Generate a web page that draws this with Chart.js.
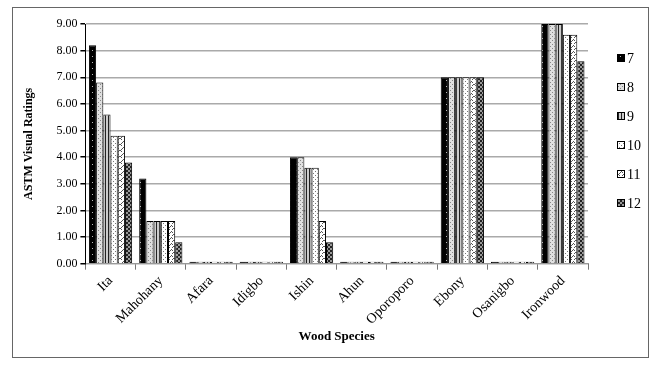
<!DOCTYPE html>
<html>
<head>
<meta charset="utf-8">
<script src="https://cdn.jsdelivr.net/npm/chart.js@4/dist/chart.umd.min.js"></script>
<style>
  body { margin: 0; background: #fff; }
  #wrap { width: 658px; height: 365px; }
</style>
</head>
<body>
<div id="wrap"><canvas id="woodChart"></canvas></div>
<script>
// categories and series
const species = ["Ita", "Mahohany", "Afara", "Idigbo", "Ishin", "Ahun", "Oporoporo", "Ebony", "Osanigbo", "Ironwood"];
const seriesNames = ["7", "8", "9", "10", "11", "12"];
const s7  = [8.2, 3.2, 0, 0, 4.0, 0, 0, 7.0, 0, 9.0];
const s8  = [6.8, 1.6, 0, 0, 4.0, 0, 0, 7.0, 0, 9.0];
const s9  = [5.6, 1.6, 0, 0, 3.6, 0, 0, 7.0, 0, 9.0];
const s10 = [4.8, 1.6, 0, 0, 3.6, 0, 0, 7.0, 0, 8.6];
const s11 = [4.8, 1.6, 0, 0, 1.6, 0, 0, 7.0, 0, 8.6];
const s12 = [3.8, 0.8, 0, 0, 0.8, 0, 0, 7.0, 0, 7.6];
const yTicks = [0, 1, 2, 3, 4, 5, 6, 7, 8, 9];

// little hatch patterns, like the old office fills
function makePattern(kind) {
    const c = document.createElement("canvas");
    c.width = 4; c.height = 4;
    const g = c.getContext("2d");
    if (kind === 0) {          // black with white specks
        c.width = 6; c.height = 6;
        g.fillStyle = "#000"; g.fillRect(0, 0, 6, 6);
        g.fillStyle = "#bbb"; g.fillRect(2, 2, 1, 1);
    } else if (kind === 1) {   // light grey stipple
        g.fillStyle = "#e0e0e0"; g.fillRect(0, 0, 4, 4);
        g.fillStyle = "#888"; g.fillRect(0, 0, 1, 1); g.fillRect(2, 2, 1, 1);
    } else if (kind === 2) {   // vertical stripes
        c.width = 3;
        g.fillStyle = "#ccc"; g.fillRect(0, 0, 3, 4);
        g.fillStyle = "#222"; g.fillRect(0, 0, 1, 4);
    } else if (kind === 3) {   // white with dot grid
        g.fillStyle = "#fff"; g.fillRect(0, 0, 4, 4);
        g.fillStyle = "#777"; g.fillRect(1, 1, 1, 1); g.fillRect(3, 3, 1, 1);
    } else if (kind === 4) {   // diamonds
        c.width = 6; c.height = 6;
        g.fillStyle = "#fff"; g.fillRect(0, 0, 6, 6);
        g.fillStyle = "#555";
        g.fillRect(0, 0, 1, 1); g.fillRect(1, 1, 1, 1); g.fillRect(4, 1, 1, 1); g.fillRect(5, 0, 1, 1);
        g.fillRect(3, 3, 1, 1); g.fillRect(2, 4, 1, 1); g.fillRect(1, 5, 1, 1); g.fillRect(4, 4, 1, 1);
    } else {                   // dark checker
        g.fillStyle = "#999"; g.fillRect(0, 0, 4, 4);
        g.fillStyle = "#222"; g.fillRect(0, 0, 2, 2); g.fillRect(2, 2, 2, 2);
    }
    const ctx = document.getElementById("woodChart").getContext("2d");
    return ctx.createPattern(c, "repeat");
}

const allSeries = [s7, s8, s9, s10, s11, s12];
const datasets = allSeries.map((vals, i) => ({
    label: seriesNames[i],
    data: vals,
    backgroundColor: makePattern(i),
    borderColor: "#000",
    borderWidth: 1,
    minBarLength: 2,
    barPercentage: 1.0,
    categoryPercentage: 0.86
}));

// frame round the whole picture, x title and the legend on the right
const framePlugin = {
    id: "frame",
    afterDraw(chart) {
        const g = chart.ctx;
        const area = chart.chartArea;
        g.save();
        g.strokeStyle = "#666";
        g.lineWidth = 1;
        g.strokeRect(12.5, 7.5, 636, 350);

        g.fillStyle = "#000";
        g.textAlign = "center";
        g.textBaseline = "middle";
        g.font = "bold 13px 'Liberation Serif'";
        g.fillText("Wood Species", (area.left + area.right) / 2, 337);

        g.textAlign = "left";
        g.font = "14px 'Liberation Serif'";
        chart.data.datasets.forEach((ds, i) => {
            const y = 58 + i * 29;
            g.fillStyle = ds.backgroundColor;
            g.fillRect(617, y - 4, 8, 8);
            g.strokeStyle = "#000";
            g.strokeRect(617.5, y - 3.5, 7, 7);
            g.fillStyle = "#000";
            g.fillText(ds.label, 627, y + 1);
        });
        g.restore();
    }
};

new Chart(document.getElementById("woodChart"), {
    type: "bar",
    data: { labels: species, datasets: datasets },
    options: {
        responsive: true,
        maintainAspectRatio: false,
        animation: false,
        layout: { padding: { left: 18, top: 24, right: 70, bottom: 34 } },
        plugins: {
            tooltip: { enabled: false },
            legend: { display: false }
        },
        scales: {
            x: {
                grid: { drawOnChartArea: false, color: "#777", tickLength: 6 },
                border: { color: "#999" },
                ticks: {
                    color: "#000",
                    font: { family: "Liberation Serif", size: 14 },
                    maxRotation: 45,
                    minRotation: 45
                }
            },
            y: {
                min: 0,
                max: 9,
                afterBuildTicks(axis) { axis.ticks = yTicks.map(v => ({ value: v })); },
                grid: { color: "#aaa", lineWidth: 1.5, tickColor: "#000", tickLength: 5 },
                border: { color: "#000" },
                ticks: {
                    color: "#000",
                    font: { family: "Liberation Serif", size: 12 },
                    callback: v => v.toFixed(2)
                },
                title: {
                    display: true,
                    text: "ASTM Visual Ratings",
                    color: "#000",
                    font: { family: "Liberation Serif", size: 12, weight: "bold" },
                    padding: { top: 4, bottom: 17 }
                }
            }
        }
    },
    plugins: [framePlugin]
});
</script>
</body>
</html>
